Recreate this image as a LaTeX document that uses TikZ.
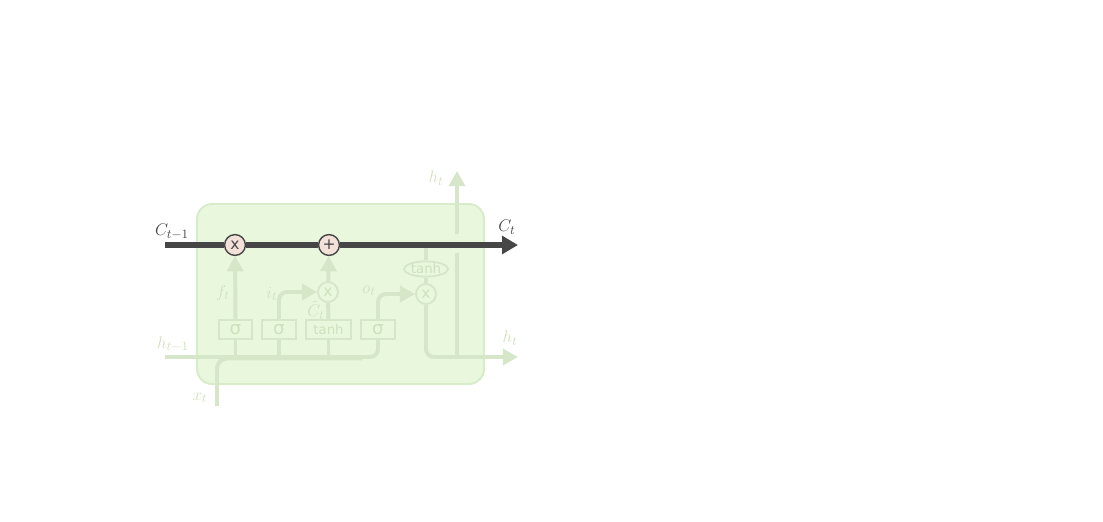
\documentclass[tikz,border=0pt]{standalone}
\usepackage{fontspec}
\usepackage{tikz}
\usetikzlibrary{arrows.meta,shapes.geometric,positioning}
\newfontfamily\gatefont{DejaVu Sans}
\definecolor{cellbg}{RGB}{233,247,221}
\definecolor{cellborder}{RGB}{217,236,201}
\definecolor{fadeline}{RGB}{214,230,200}
\definecolor{fadetext}{RGB}{206,225,190}
\definecolor{celldark}{RGB}{70,70,70}
\definecolor{opfill}{RGB}{243,224,216}
\tikzset{
  faded/.style={draw=fadeline, line width=2.8pt},
  fadedarrow/.style={faded, -{Triangle[length=0.38cm,width=0.4cm]}},
  cellline/.style={draw=celldark, line width=3.9pt, -{Triangle[length=0.4cm,width=0.44cm]}},
  opcirc/.style={circle, draw=celldark, fill=opfill, line width=1pt, minimum size=0.52cm, inner sep=0pt, text=celldark, font=\gatefont\fontsize{11}{13}\selectfont},
  opfaded/.style={circle, draw=fadeline, fill=cellbg, line width=1.3pt, minimum size=0.5cm, inner sep=0pt, text=fadetext, font=\gatefont\fontsize{11}{13}\selectfont},
  gatebox/.style={rectangle, draw=fadeline, fill=cellbg, line width=1.3pt, minimum width=0.83cm, minimum height=0.48cm, inner sep=0pt, text=fadetext, font=\gatefont\fontsize{13}{14}\selectfont},
  tanhell/.style={ellipse, draw=fadeline, fill=cellbg, line width=1.3pt, minimum width=1.1cm, minimum height=0.38cm, inner sep=0pt, text=fadetext, font=\gatefont\fontsize{9.5}{11}\selectfont},
  lbl/.style={text=fadetext, inner sep=1pt, font=\fontsize{13}{15}\selectfont},
  dlbl/.style={text=celldark, inner sep=1pt, font=\fontsize{13}{15}\selectfont}
}

\begin{document}
\begin{tikzpicture}[x=0.025cm, y=-0.025cm]
\useasboundingbox (0,0) rectangle (1103,521);
% cell body
\draw[fill=cellbg, draw=cellborder, line width=1.4pt, rounded corners=0.38cm] (197,204) rectangle (484,384);

% gates
\node[gatebox] (fgate) at (235.5,329.5) {σ};
\node[gatebox] (igate) at (279,329.5) {σ};
\node[gatebox, minimum width=1.13cm, font=\gatefont\fontsize{9.5}{11}\selectfont] (cgate) at (328.5,329.5) {tanh};
\node[gatebox] (ogate) at (378,329.5) {σ};
\node[opfaded] (imul) at (328,292) {x};
\node[opfaded] (omul) at (426,294) {x};
\node[tanhell] (otanh) at (426,269) {tanh};

\coordinate (hin) at (165,357);
\coordinate (xin) at (217,406);
\coordinate (xjoin) at (362,358.5);
\coordinate (hout) at (518,357);
\coordinate (split) at (457,357);
\coordinate (hgapbot) at (457,253);
\coordinate (hgaptop) at (457,234);
\coordinate (htop) at (457,171);
\coordinate (ctap) at (426,247);

% inputs
\draw[faded, rounded corners=0.2cm] (hin) -| (ogate.south);
\draw[faded, rounded corners=0.25cm] (xin) |- (xjoin);
\draw[faded] (fgate.south) -- (fgate.south |- hin);
\draw[faded] (igate.south) -- (igate.south |- hin);
\draw[faded] (cgate.south) -- (cgate.south |- hin);

% gate outputs
\draw[fadedarrow, rounded corners=0.2cm] (igate.north) |- (imul);
\draw[faded] (cgate) -- (imul);
\draw[fadedarrow, rounded corners=0.2cm] (ogate.north) |- (omul);
\draw[faded] (ctap) -- (otanh);
\draw[faded] (otanh) -- (omul);
\draw[fadedarrow, rounded corners=0.2cm] (omul) |- (hout);
\draw[faded] (split) -- (hgapbot);
\draw[fadedarrow] (hgaptop) -- (htop);

% cell state
\node[opcirc] (forget) at (235,245) {x};
\node[opcirc] (add) at (329,245) {+};
\coordinate (cin) at (165,245);
\coordinate (cout) at (518,245);
\draw[fadedarrow] (fgate) -- (forget);
\draw[fadedarrow] (imul) -- (add);
\draw[cellline] (cin) -- (forget) -- (add) -- (cout);

% labels
\node[dlbl] (cprev) at (172,232) {$C_{t-1}$};
\node[dlbl] (cnext) at (507,227) {$C_t$};
\node[lbl] (htoplbl) at (436,178) {$h_t$};
\node[lbl] (houtlbl) at (510,338) {$h_t$};
\node[lbl] (hinlbl) at (173,344) {$h_{t-1}$};
\node[lbl] (xinlbl) at (200,398) {$x_t$};
\node[lbl] (flbl) at (223,293) {$f_t$};
\node[lbl] (ilbl) at (272,294) {$i_t$};
\node[lbl] (clbl) at (316,310) {$\tilde{C}_t$};
\node[lbl] (olbl) at (369,291) {$o_t$};
\end{tikzpicture}
\end{document}
